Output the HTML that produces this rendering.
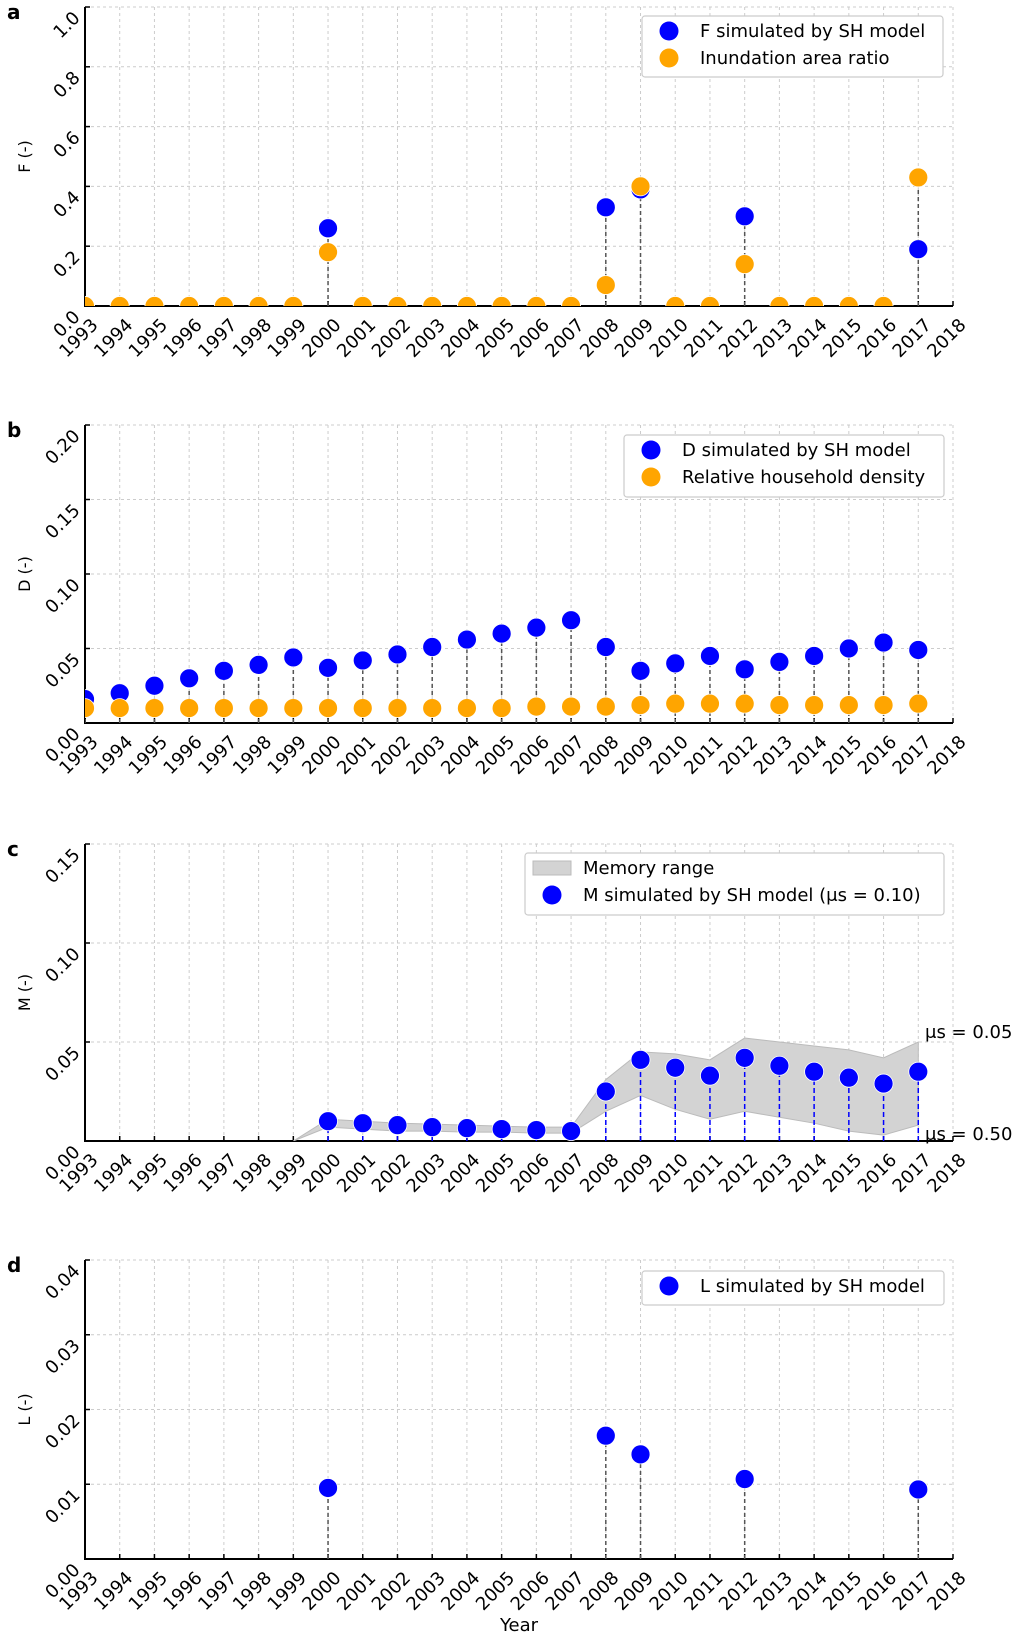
<!DOCTYPE html>
<html><head><meta charset="utf-8"><style>
body{margin:0;background:#fff;}
svg{display:block;font-family:"DejaVu Sans","Liberation Sans",sans-serif;}
</style></head><body>
<svg id="fig" width="1018" height="1637" viewBox="0 0 1018 1637" xmlns="http://www.w3.org/2000/svg"></svg>
<script>
const years=[];for(let y=1993;y<=2018;y++)years.push(y);
// Panel a
const aYears=[1993,1994,1995,1996,1997,1998,1999,2000,2001,2002,2003,2004,2005,2006,2007,2008,2009,2010,2011,2012,2013,2014,2015,2016,2017];
const fSim=[0,0,0,0,0,0,0,0.26,0,0,0,0,0,0,0,0.33,0.39,0,0,0.30,0,0,0,0,0.19];
const fObs=[0,0,0,0,0,0,0,0.18,0,0,0,0,0,0,0,0.07,0.40,0,0,0.14,0,0,0,0,0.43];
const aTicks=[0,0.2,0.4,0.6,0.8,1.0];
// Panel b
const dSim=[0.016,0.020,0.025,0.030,0.035,0.039,0.044,0.037,0.042,0.046,0.051,0.056,0.060,0.064,0.069,0.051,0.035,0.040,0.045,0.036,0.041,0.045,0.050,0.054,0.049];
const dObs=[0.010,0.010,0.010,0.010,0.010,0.010,0.010,0.010,0.010,0.010,0.010,0.010,0.010,0.011,0.011,0.011,0.012,0.013,0.013,0.013,0.012,0.012,0.012,0.012,0.013];
const bTicks=[0,0.05,0.10,0.15,0.20];
// Panel c
const mYears=[2000,2001,2002,2003,2004,2005,2006,2007,2008,2009,2010,2011,2012,2013,2014,2015,2016,2017];
const mSim=[0.010,0.009,0.008,0.007,0.0065,0.006,0.0055,0.005,0.025,0.041,0.037,0.033,0.042,0.038,0.035,0.032,0.029,0.035];
const rYears=[1999,2000,2001,2002,2003,2004,2005,2006,2007,2008,2009,2010,2011,2012,2013,2014,2015,2016,2017];
const rUpper=[0,0.011,0.010,0.009,0.0085,0.008,0.0075,0.007,0.007,0.031,0.045,0.044,0.041,0.052,0.050,0.048,0.046,0.042,0.050];
const rLower=[0,0.007,0.006,0.005,0.005,0.0045,0.0045,0.004,0.004,0.015,0.023,0.016,0.011,0.015,0.012,0.009,0.005,0.003,0.008];
const cTicks=[0,0.05,0.10,0.15];
// Panel d
const lYears=[2000,2008,2009,2012,2017];
const lSim=[0.0095,0.0165,0.014,0.0107,0.0093];
const dTicks=[0,0.01,0.02,0.03,0.04];

const svg=document.getElementById('fig');
const NS='http://www.w3.org/2000/svg';
function el(t,a,p){const e=document.createElementNS(NS,t);for(const k in a)e.setAttribute(k,a[k]);(p||svg).appendChild(e);return e;}
const X0=85,X1=953;
function xs(y){return X0+(y-1993)*(X1-X0)/25;}
const BLUE='#0000ff',ORANGE='#ffa500';

function panel(letter,top,bottom,ymax,ticks,fmt,ylabel,name){
  const g=el('g',{});
  
  
  const ys=v=>bottom-(v/ymax)*(bottom-top);
  years.forEach(y=>{if(y===1993)return;const l=el('line',{x1:xs(y),x2:xs(y),y1:top,y2:bottom,stroke:'#ccc','stroke-dasharray':'3,3','stroke-width':1},g);});
  ticks.forEach(t=>{if(t===0)return;const l=el('line',{x1:X0,x2:X1,y1:ys(t),y2:ys(t),stroke:'#ccc','stroke-dasharray':'3,3','stroke-width':1},g);});
  const ax=el('path',{d:`M${X0},${top}V${bottom}H${X1}`,fill:'none',stroke:'#000','stroke-width':2},g);
  
  ticks.forEach(t=>{const y=ys(t);
    el('line',{x1:X0,x2:X0+5,y1:y,y2:y,stroke:'#000','stroke-width':1.5},g);
    const tx=el('text',{x:X0-4,y:y+12,'font-size':18,'text-anchor':'end',transform:`rotate(-45 ${X0-4} ${y+12})`,fill:'#000'},g);
    tx.textContent=fmt(t);});
  years.forEach(y=>{const x=xs(y);
    el('line',{x1:x,x2:x,y1:bottom,y2:bottom-5,stroke:'#000','stroke-width':1.5},g);
    const tx=el('text',{x:x+14,y:bottom+20,'font-size':18,'text-anchor':'end',transform:`rotate(-45 ${x+14} ${bottom+20})`,fill:'#000'},g);
    tx.textContent=y;});
  const yl=el('text',{x:30,y:(top+bottom)/2,'font-size':16,'text-anchor':'middle',transform:`rotate(-90 30 ${(top+bottom)/2})`},g);
  yl.textContent=ylabel;
  const pl=el('text',{x:7,y:top+12,'font-size':20,'font-weight':'bold'},g);
  pl.textContent=letter;
  const clip=el('clipPath',{id:'clip'+letter},g);el('rect',{x:X0,y:top-12,width:X1-X0+12,height:bottom-top+12},clip);
  const mg=el('g',{'clip-path':`url(#clip${letter})`},g);
  return {g,mg,ys};
}
function stem(p,x,v,color,dash){const l=el('line',{x1:x,x2:x,y1:p.ys(0),y2:p.ys(v),stroke:color,'stroke-width':1.5,'stroke-dasharray':dash||'4,3'},p.mg);}
function dot(p,x,v,color,name){const c=el('circle',{cx:x,cy:p.ys(v),r:9.5,fill:color,stroke:'#fff','stroke-width':0.8},p.mg);}
function legend(x,y,w,h,items,name){
  const g=el('g',{});
  el('rect',{x,y,width:w,height:h,rx:3,fill:'#fff',stroke:'#ccc','stroke-width':1.2},g);
  items.forEach((it,i)=>{const cy=y+15+i*27;
    if(it.type==='dot')el('circle',{cx:x+27,cy,r:9.5,fill:it.color},g);
    else el('rect',{x:x+8,y:cy-7,width:38,height:14,fill:'#d3d3d3',stroke:'#bbb'},g);
    const t=el('text',{x:x+58,y:cy+6,'font-size':18},g);t.textContent=it.label;
    });
}
const f1=v=>v.toFixed(1),f2=v=>v.toFixed(2);

// a
const pa=panel('a',7,306,1.0,aTicks,f1,'F (-)','panel-a');
aYears.forEach((y,i)=>{const m=Math.max(fSim[i],fObs[i]);if(m>0)stem(pa,xs(y),m,'#555');});
aYears.forEach((y,i)=>dot(pa,xs(y),fSim[i],BLUE,'f-simulated-point'));
aYears.forEach((y,i)=>dot(pa,xs(y),fObs[i],ORANGE,'inundation-ratio-point'));
legend(642,16,301,61,[{type:'dot',color:BLUE,label:'F simulated by SH model'},{type:'dot',color:ORANGE,label:'Inundation area ratio'}],'legend-a');

// b
const pb=panel('b',425,723,0.20,bTicks,f2,'D (-)','panel-b');
aYears.forEach((y,i)=>stem(pb,xs(y),dSim[i],'#555'));
aYears.forEach((y,i)=>dot(pb,xs(y),dSim[i],BLUE,'d-simulated-point'));
aYears.forEach((y,i)=>dot(pb,xs(y),dObs[i],ORANGE,'household-density-point'));
legend(624,435,320,62,[{type:'dot',color:BLUE,label:'D simulated by SH model'},{type:'dot',color:ORANGE,label:'Relative household density'}],'legend-b');

// c
const pc=panel('c',844,1141,0.15,cTicks,f2,'M (-)','panel-c');
let d='';rYears.forEach((y,i)=>{d+=(i?'L':'M')+xs(y)+','+pc.ys(rUpper[i]);});
for(let i=rYears.length-1;i>=0;i--)d+='L'+xs(rYears[i])+','+pc.ys(rLower[i]);
const band=el('path',{d:d+'Z',fill:'#d3d3d3',stroke:'#bbb','stroke-width':1},pc.mg);

mYears.forEach((y,i)=>stem(pc,xs(y),mSim[i],BLUE,'5,3'));
mYears.forEach((y,i)=>dot(pc,xs(y),mSim[i],BLUE,'m-simulated-point'));
legend(525,853,419,62,[{type:'band',label:'Memory range'},{type:'dot',color:BLUE,label:'M simulated by SH model (μs = 0.10)'}],'legend-c');
const a1=el('text',{x:925,y:1038,'font-size':18});a1.textContent='μs = 0.05';
const a2=el('text',{x:925,y:1140,'font-size':18});a2.textContent='μs = 0.50';

// d
const pd=panel('d',1260,1559,0.04,dTicks,f2,'L (-)','panel-d');
lYears.forEach((y,i)=>stem(pd,xs(y),lSim[i],'#555'));
lYears.forEach((y,i)=>dot(pd,xs(y),lSim[i],BLUE,'l-simulated-point'));
legend(642,1271,302,34,[{type:'dot',color:BLUE,label:'L simulated by SH model'}],'legend-d');
const xt=el('text',{x:519,y:1631,'font-size':18,'text-anchor':'middle'});xt.textContent='Year';

</script>
</body></html>
